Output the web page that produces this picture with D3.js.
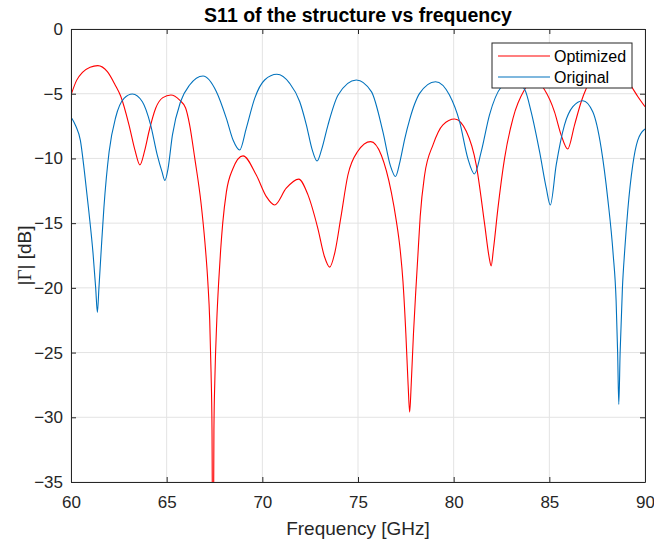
<!DOCTYPE html>
<html>
<head>
<script src="https://cdn.jsdelivr.net/npm/d3@7"></script>
<title>S11 vs frequency</title>
<style>
body { margin: 0; background: #fff; }
text { font-family: "Liberation Sans", Arial, sans-serif; fill: #262626; }
</style>
</head>
<body>
<div id="viz"></div>
<script>

// values (GHz, dB)
var optFreq = [60, 60.3, 60.6, 61.0, 61.4, 61.9, 62.3, 62.6, 63.03, 63.35, 63.6, 63.85, 64.08, 64.43, 64.8, 65.22, 65.68, 65.99, 66.2, 66.47, 66.8, 67.0, 67.15, 67.25, 67.32, 67.37, 67.42, 67.47, 67.52, 67.62, 67.72, 67.82, 67.93, 68.12, 68.46, 68.99, 69.69, 70.21, 70.64, 71.25, 71.9, 72.38, 72.9, 73.25, 73.52, 73.8, 74.1, 74.47, 74.99, 75.66, 76.22, 76.74, 77.0, 77.2, 77.35, 77.5, 77.62, 77.7, 77.78, 77.9, 78.03, 78.13, 78.25, 78.48, 78.92, 79.44, 80.05, 80.66, 81.18, 81.62, 81.85, 81.96, 82.08, 82.31, 82.66, 83.1, 83.7, 84.2, 84.75, 85.27, 85.62, 85.96, 86.32, 86.67, 86.93, 87.5, 88.1, 88.7, 89.24, 89.63, 90];
var optDb = [-5.1, -3.95, -3.35, -2.95, -2.83, -3.3, -4.3, -5.2, -7.4, -9.4, -10.5, -9.4, -7.9, -6.1, -5.3, -5.1, -5.5, -6.1, -7.4, -10.0, -13.5, -16.5, -19.5, -22.5, -26.5, -31.0, -48, -31.0, -27.0, -22.5, -19.5, -17.1, -15.0, -12.6, -10.8, -9.8, -11.3, -12.95, -13.6, -12.3, -11.6, -12.8, -15.4, -17.6, -18.4, -17.2, -14.6, -11.3, -9.45, -8.7, -9.75, -12.6, -14.8, -17.0, -19.5, -23.5, -27.5, -29.6, -27.5, -23.5, -20.0, -17.5, -14.5, -11.3, -8.95, -7.4, -6.95, -7.9, -10.5, -15.1, -17.6, -18.3, -17.0, -13.9, -10.0, -6.9, -4.7, -3.9, -4.7, -6.4, -8.2, -9.27, -7.4, -5.6, -4.6, -3.2, -2.8, -3.2, -4.33, -5.23, -6.0];

var origFreq = [60, 60.25, 60.49, 60.7, 60.94, 61.15, 61.29, 61.38, 61.46, 61.59, 61.72, 61.99, 62.34, 62.77, 63.21, 63.73, 64.16, 64.51, 64.75, 64.91, 65.07, 65.3, 65.73, 66.2, 66.9, 67.6, 68.12, 68.47, 68.82, 69.16, 69.6, 70.12, 70.76, 71.43, 71.95, 72.3, 72.6, 72.86, 73.1, 73.43, 73.96, 74.91, 75.7, 76.3, 76.7, 76.96, 77.2, 77.44, 77.7, 77.96, 78.22, 79.05, 79.78, 80.31, 80.74, 81.09, 81.44, 81.87, 82.49, 83.1, 83.72, 84.05, 84.49, 84.84, 85.05, 85.36, 85.79, 86.23, 86.75, 87.27, 87.71, 88.06, 88.33, 88.49, 88.57, 88.63, 88.7, 88.82, 88.94, 89.1, 89.36, 89.62, 90];
var origDb = [-6.8, -7.5, -8.6, -11.0, -14.2, -17.3, -20.0, -21.9, -20.0, -16.8, -13.8, -9.5, -6.8, -5.36, -5.02, -5.62, -7.4, -9.74, -11.0, -11.7, -10.8, -8.2, -5.6, -4.33, -3.63, -4.84, -6.9, -8.58, -9.35, -7.68, -5.36, -3.94, -3.5, -4.2, -5.6, -7.4, -9.3, -10.2, -9.3, -7.42, -5.1, -3.94, -4.84, -7.93, -10.6, -11.4, -10.2, -8.5, -7.0, -5.8, -4.97, -4.07, -5.1, -7.16, -10.0, -11.2, -9.48, -6.65, -4.46, -3.9, -4.7, -6.4, -9.48, -12.3, -13.6, -10.5, -7.42, -6.0, -5.54, -6.4, -9.2, -13.2, -17.3, -21.0, -25.0, -29.0, -25.0, -20.0, -17.1, -14.0, -10.5, -8.6, -7.73];

var xTicks = [60, 65, 70, 75, 80, 85, 90];
var yTicks = [0, -5, -10, -15, -20, -25, -30, -35];
var seriesNames = ["Optimized", "Original"];
var seriesColors = ["#ff0000", "#0072bd"];

var W = 654, H = 543;
var margin = {left: 71, top: 29, right: 9, bottom: 61};
var pw = W - margin.left - margin.right;
var ph = H - margin.top - margin.bottom;

var svg = d3.select("#viz").append("svg")
    .attr("width", W).attr("height", H)
    .attr("xmlns", "http://www.w3.org/2000/svg");

var x = d3.scaleLinear().domain([60, 90]).range([0, pw]);
var y = d3.scaleLinear().domain([-35, 0]).range([ph, 0]);

var g = svg.append("g").attr("transform", "translate(" + margin.left + "," + margin.top + ")");

g.append("defs").append("clipPath").attr("id", "clip")
    .append("rect").attr("width", pw).attr("height", ph);

// grid
g.append("g").selectAll("line.gx").data(xTicks).enter().append("line")
    .attr("x1", function(d){return x(d);}).attr("x2", function(d){return x(d);})
    .attr("y1", 0).attr("y2", ph)
    .attr("stroke", "#e3e3e3").attr("stroke-width", 1);
g.append("g").selectAll("line.gy").data(yTicks).enter().append("line")
    .attr("y1", function(d){return y(d);}).attr("y2", function(d){return y(d);})
    .attr("x1", 0).attr("x2", pw)
    .attr("stroke", "#e3e3e3").attr("stroke-width", 1);

// curves
var line = d3.line()
    .x(function(d){return x(d[0]);})
    .y(function(d){return y(d[1]);})
    .curve(d3.curveMonotoneX);

var series = [d3.zip(optFreq, optDb), d3.zip(origFreq, origDb)];
g.append("g").attr("clip-path", "url(#clip)")
    .selectAll("path").data(series).enter().append("path")
    .attr("d", line)
    .attr("fill", "none")
    .attr("stroke", function(d, i){return seriesColors[i];})
    .attr("stroke-width", 1.1);

// axes (MATLAB style: ticks inside, box on)
function styleAxis(sel) {
    sel.select(".domain").attr("stroke", "#262626");
    sel.selectAll(".tick line").attr("stroke", "#262626");
    sel.selectAll(".tick text").style("font-size", "17px").attr("fill", "#262626");
}
g.append("g").attr("transform", "translate(0," + ph + ")")
    .call(d3.axisBottom(x).tickValues(xTicks).tickSizeInner(-5).tickSizeOuter(0).tickPadding(14))
    .call(styleAxis);
g.append("g")
    .call(d3.axisLeft(y).tickValues(yTicks).tickSizeInner(-5).tickSizeOuter(0).tickPadding(8))
    .call(styleAxis);
g.append("g")
    .call(d3.axisTop(x).tickValues(xTicks).tickSizeInner(-5).tickSizeOuter(0).tickFormat(""))
    .call(styleAxis);
g.append("g").attr("transform", "translate(" + pw + ",0)")
    .call(d3.axisRight(y).tickValues(yTicks).tickSizeInner(-5).tickSizeOuter(0).tickFormat(""))
    .call(styleAxis);

// title and labels
svg.append("text")
    .attr("x", margin.left + pw / 2).attr("y", 22)
    .attr("text-anchor", "middle")
    .style("font-size", "19.5px").style("font-weight", "bold")
    .style("fill", "#000")
    .text("S11 of the structure vs frequency");

svg.append("text")
    .attr("x", margin.left + pw / 2).attr("y", 535)
    .attr("text-anchor", "middle")
    .style("font-size", "19px")
    .text("Frequency [GHz]");

var yl = svg.append("text")
    .attr("transform", "translate(31," + (margin.top + ph / 2) + ") rotate(-90)")
    .attr("text-anchor", "middle")
    .style("font-size", "19px");
yl.append("tspan").text("|");
yl.append("tspan").style("font-family", "'Liberation Serif', 'DejaVu Serif', serif").text("Γ");
yl.append("tspan").text("| [dB]");

// legend
var lg = svg.append("g").attr("transform", "translate(492,43)");
lg.append("rect").attr("width", 140).attr("height", 45)
    .attr("fill", "#fff").attr("stroke", "#262626").attr("stroke-width", 1);
var items = lg.selectAll("g.item").data(seriesNames).enter().append("g")
    .attr("transform", function(d, i){return "translate(0," + (13 + i * 21) + ")";});
items.append("line").attr("x1", 6).attr("x2", 58)
    .attr("stroke", function(d, i){return seriesColors[i];}).attr("stroke-width", 1.1);
items.append("text").attr("x", 62).attr("dy", "0.35em")
    .style("font-size", "16px").style("fill", "#000")
    .text(function(d){return d;});

</script>
</body>
</html>
